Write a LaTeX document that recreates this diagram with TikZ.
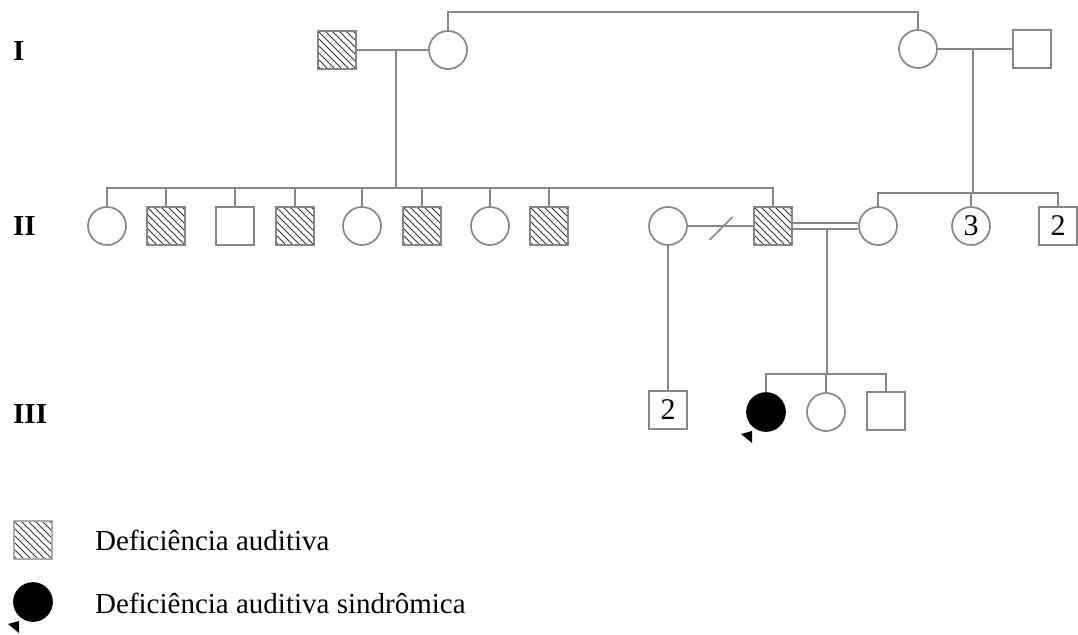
\documentclass[tikz,border=0pt]{standalone}
\usepackage{fontspec}
\setmainfont{Liberation Serif}
\usetikzlibrary{calc}
\definecolor{linegray}{RGB}{135,135,135}
\definecolor{hatchgray}{RGB}{50,50,50}
\begin{document}
\begin{tikzpicture}[x=1pt,y=-1pt]
\tikzset{
  person/.style={draw=linegray, line width=1.7, minimum size=38, inner sep=0,
    fill=white, font=\fontsize{30}{30}\selectfont},
  male/.style={person, rectangle},
  female/.style={person, circle},
  affected/.style={path picture={
      \foreach \k in {-42,-35,...,42}
        \draw[hatchgray, line width=0.8]
          ([xshift=\k pt]path picture bounding box.north west) -- ++(46,46);}},
  syndromic/.style={fill=black, draw=black},
  link/.style={draw=linegray, line width=1.7},
  gen/.style={font=\fontsize{29}{29}\selectfont\bfseries, anchor=base west, inner sep=0},
  legendtext/.style={font=\fontsize{29}{29}\selectfont, anchor=base west, inner sep=0},
  arrowmark/.style={fill=black}
}
\useasboundingbox (0,0) rectangle (1078,634);

% generation labels
\node[gen] (gI)   at (13,60)  {I};
\node[gen] (gII)  at (13,235) {II};
\node[gen] (gIII) at (13,423) {III};

% generation I
\node[male, affected] (I1) at (337,50) {};
\node[female] (I2) at (448,50) {};
\node[female] (I3) at (918,49) {};
\node[male]   (I4) at (1032,49) {};

% generation II
\node[female]         (II1)  at (107,226) {};
\node[male, affected] (II2)  at (166,226) {};
\node[male]           (II3)  at (235,226) {};
\node[male, affected] (II4)  at (295,226) {};
\node[female]         (II5)  at (362,226) {};
\node[male, affected] (II6)  at (422,226) {};
\node[female]         (II7)  at (490,226) {};
\node[male, affected] (II8)  at (549,226) {};
\node[female]         (II9)  at (668,226) {};
\node[male, affected] (II10) at (773,226) {};
\node[female]         (II11) at (878,226) {};
\node[female]         (II12) at (971,226) {3};
\node[male]           (II13) at (1058,226) {2};

% generation III
\node[male]              (III1) at (668,410) {2};
\node[female, syndromic] (III2) at (766,412) {};
\node[female]            (III3) at (826,412) {};
\node[male]              (III4) at (886,411) {};

% legend
\node[male, affected, draw=linegray!70] (L1) at (33,540) {};
\node[female, syndromic] (L2) at (33,602) {};
\node[legendtext] (T1) at (95,550) {Deficiência auditiva};
\node[legendtext] (T2) at (95,613) {Deficiência auditiva sindrômica};

% junction points
\coordinate (c1) at (396,50);
\coordinate (sib2) at (396,188);
\coordinate (c2) at (973,48);
\coordinate (sib2r) at (973,193);
\coordinate (c3) at (827,229);
\coordinate (sib3) at (827,374);
\coordinate (sep) at ($(II9.east)!0.5!(II10.west)$);

% I-2 and I-3 are sisters
\draw[link] (I2.north) -- ++(0,-18) -| (I3.north);

% couples of generation I
\draw[link] (I1.east) -- (I2.west);
\draw[link] (I3.east) -- (I4.west);
\draw[link] (c1) -- (sib2);
\draw[link] (c2) -- (sib2r);

% sibship of I-1 x I-2
\draw[link] (II1.north) |- (sib2 -| II10.north) -- (II10.north);
\foreach \n in {II2,II3,II4,II5,II6,II7,II8}
  \draw[link] (\n.north) -- (\n.north |- sib2);

% sibship of I-3 x I-4
\draw[link] (II11.north) |- (sib2r -| II13.north) -- (II13.north);
\draw[link] (II12.north) -- (II12.north |- sib2r);

% separated couple II-9 x II-10
\draw[link] (II9.east) -- (II10.west);
\draw[link] ($(sep)+(-11,14)$) -- ($(sep)+(12,-9)$);
\draw[link] (II9.south) -- (III1.north);

% consanguineous couple II-10 x II-11
\draw[link] ([yshift=3pt]II10.east) -- ([yshift=3pt]II11.west);
\draw[link] ([yshift=-3pt]II10.east) -- ([yshift=-3pt]II11.west);
\draw[link] (c3) -- (sib3);
\draw[link] (III2.north) |- (sib3 -| III4.north) -- (III4.north);
\draw[link] (III3.north) -- (III3.north |- sib3);

% proband arrows
\fill[arrowmark] ($(III2.center)+(-25,22)$) -- ($(III2.center)+(-14,19)$) -- ($(III2.center)+(-14,31)$) -- cycle;
\fill[arrowmark] ($(L2.center)+(-25,22)$) -- ($(L2.center)+(-14,19)$) -- ($(L2.center)+(-14,31)$) -- cycle;
\end{tikzpicture}
\end{document}
